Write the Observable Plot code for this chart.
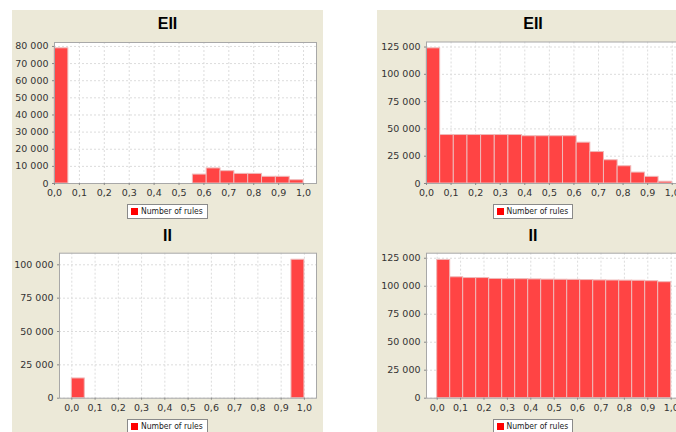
<!DOCTYPE html>
<html>
<head>
<meta charset="utf-8">
<script src="https://cdn.jsdelivr.net/npm/d3@7"></script>
<script src="https://cdn.jsdelivr.net/npm/@observablehq/plot@0.6"></script>
<style>
  html, body { margin: 0; padding: 0; }
  body { width: 676px; height: 432px; overflow: hidden; position: relative; background: #ffffff; font-family: "DejaVu Sans", sans-serif; }
  .panel { position: absolute; background: #ECE9D8; }
  .title { position: absolute; text-align: center; font: bold 16px "Liberation Sans", Arial, sans-serif; color: #000; line-height: 18px; }
  .legend { position: absolute; height: 15px; border: 1px solid #8a8a8a; background: #fff; box-sizing: border-box; font: 8.5px "DejaVu Sans Condensed", "DejaVu Sans", sans-serif; color: #222; line-height: 13px; padding: 0 4px 0 3px; white-space: nowrap; }
  .legend .sw { display: inline-block; width: 7px; height: 7px; background: #ff0000; vertical-align: -1px; margin-right: 3px; }
  .chart { position: absolute; }
</style>
</head>
<body>
<div class="panel" style="left:12px; top:10px; width:311px; height:422px;"></div>
<div class="panel" style="left:377px; top:10px; width:320px; height:422px;"></div>
<div id="root"></div>
<script>
// ---- data ----
const seriesName = "Number of rules";
const titleTop = "EII";
const titleBottom = "II";
const binEdges = [0, 0.0556, 0.1111, 0.1667, 0.2222, 0.2778, 0.3333, 0.3889, 0.4444, 0.5,
                  0.5556, 0.6111, 0.6667, 0.7222, 0.7778, 0.8333, 0.8889, 0.9444, 1.0];
const xTicks = [0, 0.1, 0.2, 0.3, 0.4, 0.5, 0.6, 0.7, 0.8, 0.9, 1.0];
const yTicksTopLeft = [0, 10000, 20000, 30000, 40000, 50000, 60000, 70000, 80000];
const yTicksTopRight = [0, 25000, 50000, 75000, 100000, 125000];
const yTicksBottomLeft = [0, 25000, 50000, 75000, 100000];
const yTicksBottomRight = [0, 25000, 50000, 75000, 100000, 125000];
const eiiLeft = [78900, 0, 0, 0, 0, 0, 0, 0, 0, 0, 5200, 8800, 7200, 5600, 5600, 3900, 3900, 1900];
const eiiRight = [123800, 44400, 44400, 44400, 44400, 44400, 44400, 43300, 43300, 43300, 43300, 37400, 28800, 21300, 15800, 10000, 6100, 1600];
const iiLeft = [14800, 0, 0, 0, 0, 0, 0, 0, 0, 0, 0, 0, 0, 0, 0, 0, 0, 103800];
const iiRight = [123500, 108000, 107300, 107300, 106500, 106300, 106300, 106100, 105900, 105800, 105700, 105500, 105200, 105100, 105000, 104900, 104500, 103600];

const fmtY = v => d3.format(",")(v).replace(/,/g, " ");
const fmtX = v => d3.format(".1f")(v).replace(".", ",");

function rowsOf(values) {
  return values.map((v, i) => ({x1: binEdges[i], x2: binEdges[i + 1], y: v})).filter(d => d.y > 0);
}

function panel(cfg) {
  const svg = Plot.plot({
    width: cfg.width, height: cfg.height,
    marginLeft: cfg.ml, marginRight: cfg.mr, marginTop: cfg.mt, marginBottom: cfg.mb,
    style: {background: "transparent", fontFamily: "'DejaVu Sans', sans-serif", fontSize: "9.5px", color: "#333", overflow: "visible"},
    x: {domain: cfg.xDomain, axis: null},
    y: {domain: cfg.yDomain, axis: null},
    marks: [
      Plot.frame({fill: "#ffffff", stroke: "none"}),
      Plot.gridX(xTicks, {stroke: "#dcdcdc", strokeOpacity: 1, strokeDasharray: "2,2"}),
      Plot.gridY(cfg.yTicks, {stroke: "#dcdcdc", strokeOpacity: 1, strokeDasharray: "2,2"}),
      Plot.rectY(rowsOf(cfg.values), {x1: "x1", x2: "x2", y: "y", fill: "#ff4444", stroke: "#efb9b9", strokeWidth: 1}),
      Plot.frame({stroke: "#a8a8a8"}),
      Plot.axisX(xTicks, {tickFormat: fmtX, tickSize: 2, tickPadding: 4, stroke: "#888", fill: "#333", label: null}),
      Plot.axisY(cfg.yTicks, {tickFormat: fmtY, tickSize: 2, tickPadding: 4, stroke: "#888", fill: "#333", label: null})
    ]
  });
  svg.classList.add("chart");
  svg.style.left = cfg.left + "px";
  svg.style.top = cfg.top + "px";
  document.getElementById("root").appendChild(svg);

  const t = document.createElement("div");
  t.className = "title";
  t.textContent = cfg.title;
  t.style.left = cfg.pLeft + "px";
  t.style.width = cfg.pWidth + "px";
  t.style.top = cfg.titleTop + "px";
  document.getElementById("root").appendChild(t);

  const lg = document.createElement("div");
  lg.className = "legend";
  lg.innerHTML = '<span class="sw"></span>' + seriesName;
  document.getElementById("root").appendChild(lg);
  const w = lg.offsetWidth;
  lg.style.left = (cfg.pLeft + cfg.pWidth / 2 - w / 2) + "px";
  lg.style.top = cfg.legendTop + "px";
}

panel({values: eiiLeft, yTicks: yTicksTopLeft, yDomain: [0, 82300], xDomain: [0, 1.052],
  left: 12, top: 30, width: 311, height: 175, ml: 42, mr: 7, mt: 12, mb: 22,
  title: titleTop, pLeft: 12, pWidth: 311, titleTop: 15, legendTop: 204});
panel({values: eiiRight, yTicks: yTicksTopRight, yDomain: [0, 129600], xDomain: [0, 1.052],
  left: 377, top: 30, width: 312, height: 175, ml: 49, mr: 4.5, mt: 11.5, mb: 22,
  title: titleTop, pLeft: 377, pWidth: 312, titleTop: 15, legendTop: 204});
panel({values: iiLeft, yTicks: yTicksBottomLeft, yDomain: [0, 108700], xDomain: [-0.053, 1.052],
  left: 12, top: 242, width: 311, height: 178, ml: 47, mr: 7, mt: 10.7, mb: 22.3,
  title: titleBottom, pLeft: 12, pWidth: 311, titleTop: 227, legendTop: 419});
panel({values: iiRight, yTicks: yTicksBottomRight, yDomain: [0, 129500], xDomain: [-0.0457, 1.05],
  left: 377, top: 242, width: 312, height: 178, ml: 49, mr: 6.6, mt: 10.7, mb: 22.3,
  title: titleBottom, pLeft: 377, pWidth: 312, titleTop: 227, legendTop: 419});
</script>
</body>
</html>
